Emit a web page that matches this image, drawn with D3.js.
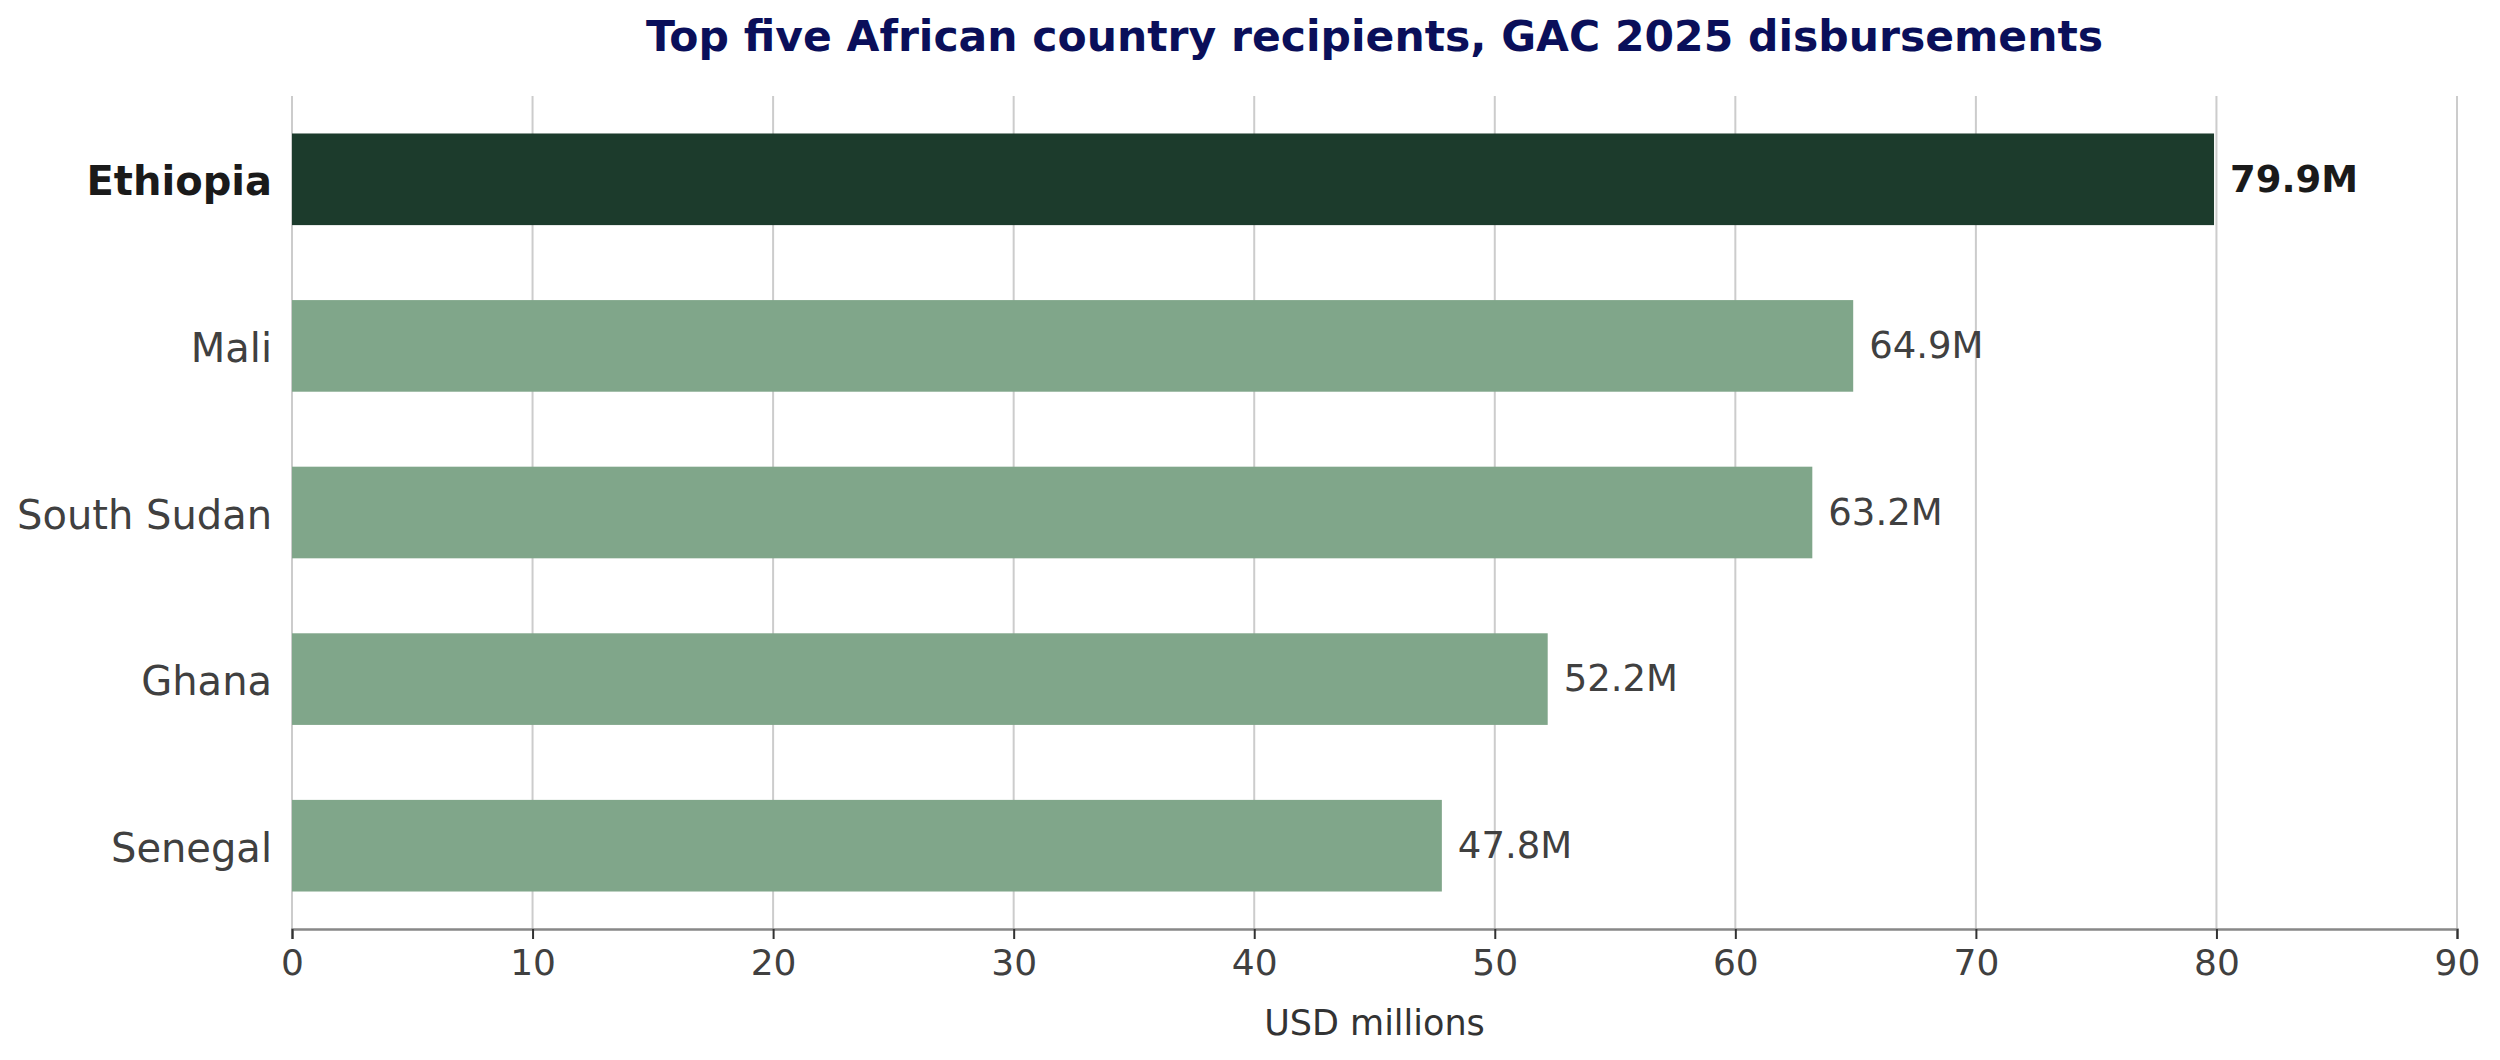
<!DOCTYPE html>
<html lang="en">
<head>
    <meta charset="UTF-8">
    <script src="https://d3js.org/d3.v7.min.js"></script>
    <style>
        body { margin: 0; background: #fff; }
        text { font-family: "DejaVu Sans", sans-serif; }
    </style>
</head>
<body>
    <script>
        // chart data
        var countries = ["Ethiopia", "Mali", "South Sudan", "Ghana", "Senegal"];
        var values = [79.9, 64.9, 63.2, 52.2, 47.8];
        var valueLabels = ["79.9M", "64.9M", "63.2M", "52.2M", "47.8M"];
        var xTicks = [0, 10, 20, 30, 40, 50, 60, 70, 80, 90];
        var highlight = "Ethiopia";

        var data = countries.map(function(c, i) {
            return { country: c, value: values[i], label: valueLabels[i] };
        });

        let svgwidth = 2500;
        let svgheight = 1060;
        // plot area (window.top is reserved, so use own names)
        var plotLeft = 292, plotRight = 2457, plotTop = 96, plotBottom = 929;

        let svg = d3.select("body").append("svg")
            .attr("width", svgwidth)
            .attr("height", svgheight);

        let x = d3.scaleLinear().domain([0, 90]).range([plotLeft, plotRight]);
        let y = d3.scaleBand().domain(countries).range([plotTop, plotBottom])
            .paddingInner(0.45).paddingOuter(0.225);

        // vertical grid
        svg.selectAll(".grid").data(xTicks).enter().append("line")
            .attr("class", "grid")
            .attr("x1", d => x(d)).attr("x2", d => x(d))
            .attr("y1", plotTop).attr("y2", plotBottom)
            .attr("stroke", "#cccccc").attr("stroke-width", 2);

        // bars
        svg.selectAll(".bar").data(data).enter().append("rect")
            .attr("class", "bar")
            .attr("x", x(0))
            .attr("y", d => y(d.country))
            .attr("width", d => x(d.value) - x(0))
            .attr("height", y.bandwidth())
            .attr("fill", d => d.country === highlight ? "#1c3b2c" : "#80a68a");

        // value labels
        svg.selectAll(".val").data(data).enter().append("text")
            .attr("class", "val")
            .attr("x", d => x(d.value) + 16)
            .attr("y", d => y(d.country) + y.bandwidth() / 2)
            .attr("dy", "0.33em")
            .attr("font-size", "37px")
            .attr("font-weight", d => d.country === highlight ? "bold" : "normal")
            .attr("fill", d => d.country === highlight ? "#1a1a1a" : "#404040")
            .text(d => d.label);

        // x axis
        let xAxis = svg.append("g")
            .attr("transform", "translate(0," + plotBottom + ")")
            .call(d3.axisBottom(x).tickValues(xTicks).tickSize(10).tickPadding(10));
        xAxis.select(".domain").attr("stroke", "#888888").attr("stroke-width", 2.5);
        xAxis.selectAll(".tick line").attr("stroke", "#333333").attr("stroke-width", 2);
        xAxis.selectAll(".tick text")
            .attr("font-size", "36px")
            .attr("fill", "#404040")
            .attr("font-family", "DejaVu Sans");

        // y axis labels
        let yAxis = svg.append("g")
            .attr("transform", "translate(" + plotLeft + ",0)")
            .call(d3.axisLeft(y).tickSize(0).tickPadding(20));
        yAxis.select(".domain").remove();
        yAxis.selectAll(".tick text")
            .attr("dy", "0.4em")
            .attr("font-size", "40px")
            .attr("font-family", "DejaVu Sans")
            .attr("font-weight", d => d === highlight ? "bold" : "normal")
            .attr("fill", d => d === highlight ? "#1a1a1a" : "#404040");

        // axis title
        svg.append("text")
            .attr("x", (plotLeft + plotRight) / 2)
            .attr("y", 1023)
            .attr("dy", "0.35em")
            .attr("text-anchor", "middle")
            .attr("font-size", "35px")
            .attr("fill", "#333333")
            .text("USD millions");

        // chart title
        svg.append("text")
            .attr("x", (plotLeft + plotRight) / 2)
            .attr("y", 36)
            .attr("dy", "0.35em")
            .attr("text-anchor", "middle")
            .attr("font-size", "42.5px")
            .attr("font-weight", "bold")
            .attr("fill", "#0a0f5a")
            .text("Top five African country recipients, GAC 2025 disbursements");
    </script>
</body>
</html>
